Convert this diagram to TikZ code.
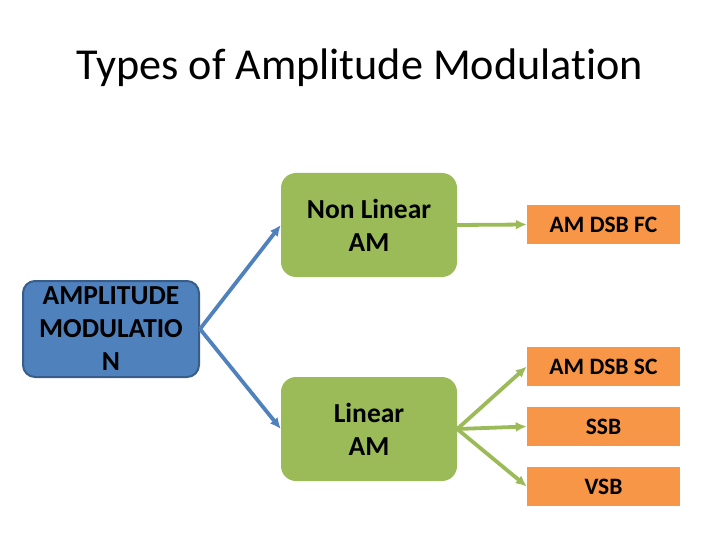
\documentclass[tikz,border=0pt]{standalone}
\usepackage{fontspec}
\setmainfont{Carlito}[Ligatures=NoCommon]
\usetikzlibrary{arrows.meta}
\definecolor{amblue}{HTML}{4F81BD}
\definecolor{ambluedark}{HTML}{385D8A}
\definecolor{amgreen}{HTML}{9BBB59}
\definecolor{amorange}{HTML}{F79646}
\begin{document}
\begin{tikzpicture}[x=1pt, y=-1pt, >={Latex[length=11pt,width=10pt]},
  boxtext/.style={align=center, inner sep=0pt, font=\fontsize{27.5}{33}\selectfont\bfseries},
  mainbox/.style={boxtext, draw=ambluedark, line width=2pt, fill=amblue, rounded corners=12pt,
    minimum width=176pt, minimum height=96pt},
  typebox/.style={boxtext, fill=amgreen, rounded corners=15pt, minimum width=176pt, minimum height=104pt},
  leafbox/.style={boxtext, font=\fontsize{23.5}{28}\selectfont\bfseries, fill=amorange,
    minimum width=153pt, minimum height=39pt},
  bluearrow/.style={->, amblue, line width=3.8pt},
  greenarrow/.style={->, amgreen, line width=3.8pt}]
  \useasboundingbox (0,0) rectangle (720,540);
  \node[font=\fontsize{44.2}{48}\selectfont] (title) at (360,68) {Types of Amplitude Modulation};
  % boxes
  \node[mainbox] (am) at (111,329) {AMPLITUDE\\MODULATIO\\N};
  \node[typebox] (nonlin) at (369,225) {Non Linear\\AM};
  \node[typebox] (lin) at (369,429) {Linear\\AM};
  \node[leafbox] (dsbfc) at (603.5,224.5) {AM DSB FC};
  \node[leafbox] (dsbsc) at (603.5,366.5) {AM DSB SC};
  \node[leafbox] (ssb) at (603.5,426.5) {SSB};
  \node[leafbox] (vsb) at (603.5,486.5) {VSB};
  % connectors
  \draw[bluearrow] (am.east) -- (nonlin.west);
  \draw[bluearrow] (am.east) -- (lin.west);
  \draw[greenarrow] (nonlin.east) -- (dsbfc.west);
  \draw[greenarrow] (lin.east) -- (dsbsc.west);
  \draw[greenarrow] (lin.east) -- (ssb.west);
  \draw[greenarrow] (lin.east) -- (vsb.west);
\end{tikzpicture}
\end{document}
